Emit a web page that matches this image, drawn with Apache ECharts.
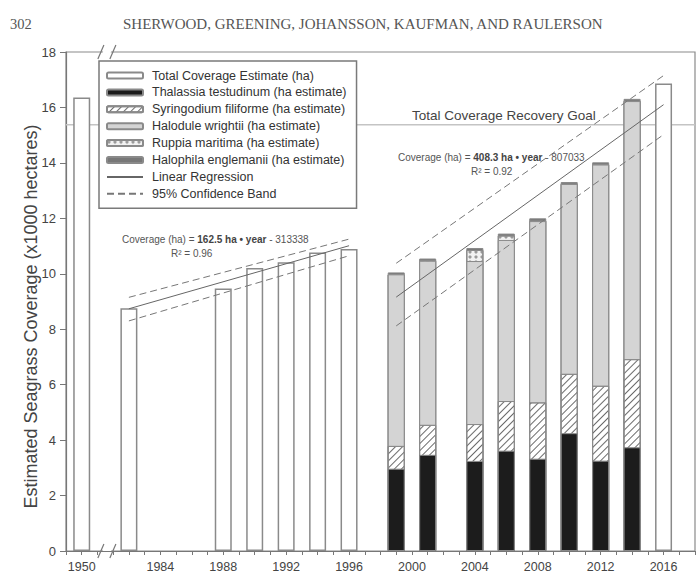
<!DOCTYPE html>
<html>
<head>
<meta charset="utf-8">
<script src="https://cdn.jsdelivr.net/npm/echarts@6/dist/echarts.min.js"></script>
<style>
  html, body { margin: 0; padding: 0; background: #fff; }
  #chart { width: 698px; height: 579px; }
</style>
</head>
<body>
<div id="chart"></div>
<script>
// Seagrass coverage survey results (x1000 ha)
const surveyYears   = [1950, 1982, 1988, 1990, 1992, 1994, 1996, 2016];
const totalCoverage = [16.36, 8.76, 9.47, 10.21, 10.42, 10.77, 10.89, 16.86];

// Species composition for the mapped years
const speciesYears = [1999, 2001, 2004, 2006, 2008, 2010, 2012, 2014];
const thalassia    = [2.97, 3.47, 3.25, 3.62, 3.33, 4.25, 3.26, 3.74];
const syringodium  = [0.82, 1.08, 1.33, 1.79, 2.03, 2.14, 2.70, 3.18];
const halodule     = [6.19, 5.92, 5.88, 5.81, 6.54, 6.85, 7.98, 9.31];
const ruppia       = [0.00, 0.02, 0.40, 0.16, 0.02, 0.01, 0.01, 0.01];
const halophila    = [0.07, 0.06, 0.07, 0.07, 0.08, 0.06, 0.07, 0.07];

// Recovery goal (x1000 ha)
const recoveryGoal = 15.378;

// Regression fits (ha = slope * year + intercept) and their year spans
const fitEarly = { years: [1982, 1996], slope: 162.5, intercept: -313338, r2: '0.96' };
const fitLate  = { years: [1999, 2016], slope: 408.3, intercept: -807033, r2: '0.92' };

// 95% confidence band ends (x1000 ha)
const bandEarlyUpper = [9.15, 11.25];
const bandEarlyLower = [8.30, 10.65];
const bandLateUpper  = [10.38, 17.15];
const bandLateLower  = [8.12, 15.02];

// Labelled years on the x axis
const tickYears = [1950, 1984, 1988, 1992, 1996, 2000, 2004, 2008, 2012, 2016];

// The 1950 survey sits in front of an axis break
const BREAK_SLOT = 1979;
const BREAK_AT = 1980.6;
const slot = y => (y === 1950 ? BREAK_SLOT : y);
const yearLabel = v => (v === BREAK_SLOT ? '1950' : (tickYears.includes(v) && v !== 1950 ? String(v) : ''));

const FONT = '"Liberation Sans", Arial, sans-serif';
const SERIF = '"Liberation Serif", "Times New Roman", serif';
const BORDER = '#8a8a8a';

const fitValue = (fit, y) => (fit.slope * y + fit.intercept) / 1000;
const fitLine = fit => fit.years.map(y => [y, fitValue(fit, y)]);
const bandLine = (years, vals) => years.map((y, i) => [y, vals[i]]);

// Species layers from the bottom of each bar upward; each segment is drawn
// as a bar reaching the running total, lower layers painted over upper ones.
const layers = [thalassia, syringodium, halodule, ruppia, halophila];
const runningTop = k => speciesYears.map((_, i) =>
  Math.round(layers.slice(0, k + 1).reduce((s, arr) => s + arr[i], 0) * 1000) / 1000);

const layerBar = (name, k, color, extra) => ({
  name, type: 'bar', barWidth: 17, barGap: '-100%',
  data: speciesYears.map((y, i) => [y, runningTop(k)[i]]),
  itemStyle: Object.assign({ color, borderColor: BORDER, borderWidth: 1 }, extra || {}),
  emphasis: { disabled: true }, z: 3
});

const chart = echarts.init(document.getElementById('chart'), null, { renderer: 'svg' });

const eqRich = {
  n: { fontFamily: FONT, fontSize: 10, fontWeight: 'normal', color: '#555' },
  b: { fontFamily: FONT, fontSize: 10, fontWeight: 'bold', color: '#444' }
};
const eqText = fit => '{n|Coverage (ha) = }{b|' + fit.slope + ' ha \u2022 year}{n| - ' + (-fit.intercept) + '}';

const option = {
  animation: false,
  backgroundColor: '#fff',
  title: [
    { text: '302', left: 5, top: 11, textStyle: { fontFamily: SERIF, fontSize: 14.5, fontWeight: 'normal', color: '#555' } },
    { text: 'SHERWOOD, GREENING, JOHANSSON, KAUFMAN, AND RAULERSON', left: 118, top: 11,
      textStyle: { fontFamily: SERIF, fontSize: 15, fontWeight: 'normal', color: '#555' } },
    { text: 'Total Coverage Recovery Goal', left: 407, top: 103,
      textStyle: { fontFamily: FONT, fontSize: 13.5, fontWeight: 'normal', color: '#444' } },
    { text: eqText(fitEarly), left: 117, top: 229, textStyle: { rich: eqRich } },
    { text: 'R\u00b2 = ' + fitEarly.r2, left: 166, top: 243,
      textStyle: { fontFamily: FONT, fontSize: 10, fontWeight: 'normal', color: '#555' } },
    { text: eqText(fitLate), left: 393, top: 147, textStyle: { rich: eqRich } },
    { text: 'R\u00b2 = ' + fitLate.r2, left: 466, top: 161,
      textStyle: { fontFamily: FONT, fontSize: 10, fontWeight: 'normal', color: '#555' } }
  ],
  legend: {
    orient: 'vertical', left: 99, top: 61,
    itemWidth: 36, itemHeight: 6, itemGap: 3.9,
    padding: [8, 10, 8, 7],
    backgroundColor: '#fff', borderColor: '#7a7a7a', borderWidth: 1.5,
    textStyle: { fontFamily: FONT, fontSize: 12.5, color: '#333', padding: [0, 0, 0, 4] },
    selectedMode: false,
    data: [
      'Total Coverage Estimate (ha)',
      'Thalassia testudinum (ha estimate)',
      'Syringodium filiforme (ha estimate)',
      'Halodule wrightii (ha estimate)',
      'Ruppia maritima (ha estimate)',
      'Halophila englemanii (ha estimate)',
      { name: 'Linear Regression', itemStyle: { opacity: 0 } },
      { name: '95% Confidence Band', itemStyle: { opacity: 0 } }
    ]
  },
  grid: { left: 66, right: 2, top: 52, bottom: 28, show: true, borderColor: '#8a8a8a', borderWidth: 1.2 },
  xAxis: {
    type: 'value', min: 1978, max: 2018, interval: 1,
    axisLine: { lineStyle: { color: '#777', width: 1.2 } },
    axisTick: { length: 4, lineStyle: { color: '#777' } },
    axisLabel: { formatter: yearLabel, fontFamily: FONT, fontSize: 12.5, color: '#444', margin: 9 },
    splitLine: { show: false }
  },
  yAxis: {
    type: 'value', min: 0, max: 18, interval: 2,
    name: 'Estimated Seagrass Coverage (x1000 hectares)',
    nameLocation: 'middle', nameGap: 26, nameMoveOverlap: false,
    nameTextStyle: { fontFamily: FONT, fontSize: 18, color: '#444', padding: [0, 30, 0, 0] },
    axisLine: { show: true, lineStyle: { color: '#777', width: 1.2 } },
    axisTick: { show: true, length: 6, lineStyle: { color: '#777' } },
    axisLabel: { fontFamily: FONT, fontSize: 13, color: '#444', margin: 10 },
    splitLine: { show: false }
  },
  series: [
    {
      name: 'Recovery Goal', type: 'line', silent: true, symbol: 'none', z: 1,
      data: [[1978, recoveryGoal], [2018, recoveryGoal]],
      lineStyle: { color: '#c4c4c4', width: 1.6 }
    },
    {
      name: 'Total Coverage Estimate (ha)', type: 'bar', barWidth: 17, barGap: '-100%',
      data: surveyYears.map((y, i) => [slot(y), totalCoverage[i]]),
      itemStyle: { color: '#fff', borderColor: BORDER, borderWidth: 1.5 },
      emphasis: { disabled: true }, z: 3
    },
    layerBar('Halophila englemanii (ha estimate)', 4, '#777777'),
    layerBar('Ruppia maritima (ha estimate)', 3, '#f2f2f2', {
      decal: { symbol: 'circle', symbolSize: 0.8, dashArrayX: [[4, 2]], dashArrayY: [4, 1], color: '#9a9a9a', backgroundColor: '#f7f7f7' }
    }),
    layerBar('Halodule wrightii (ha estimate)', 2, '#d4d4d4'),
    layerBar('Syringodium filiforme (ha estimate)', 1, '#ffffff', {
      decal: { symbol: 'rect', symbolSize: 1, dashArrayX: [1, 0], dashArrayY: [1, 3.2], rotation: -Math.PI / 4, color: '#6a6a6a', backgroundColor: '#ffffff' }
    }),
    layerBar('Thalassia testudinum (ha estimate)', 0, '#1c1c1c'),
    {
      name: 'Linear Regression', type: 'line', symbol: 'none', z: 5, silent: true,
      data: fitLine(fitEarly), itemStyle: { color: '#666' }, lineStyle: { color: '#666', width: 1 }
    },
    {
      name: 'Linear Regression', type: 'line', symbol: 'none', z: 5, silent: true,
      data: fitLine(fitLate), itemStyle: { color: '#666' }, lineStyle: { color: '#666', width: 1 }
    },
    {
      name: '95% Confidence Band', type: 'line', symbol: 'none', z: 5, silent: true,
      data: bandLine(fitEarly.years, bandEarlyUpper), itemStyle: { color: '#777' }, lineStyle: { color: '#777', width: 1, type: [7, 4] }
    },
    {
      name: '95% Confidence Band', type: 'line', symbol: 'none', z: 5, silent: true,
      data: bandLine(fitEarly.years, bandEarlyLower), itemStyle: { color: '#777' }, lineStyle: { color: '#777', width: 1, type: [7, 4] }
    },
    {
      name: '95% Confidence Band', type: 'line', symbol: 'none', z: 5, silent: true,
      data: bandLine(fitLate.years, bandLateUpper), itemStyle: { color: '#777' }, lineStyle: { color: '#777', width: 1, type: [7, 4] }
    },
    {
      name: '95% Confidence Band', type: 'line', symbol: 'none', z: 5, silent: true,
      data: bandLine(fitLate.years, bandLateLower), itemStyle: { color: '#777' }, lineStyle: { color: '#777', width: 1, type: [7, 4] }
    }
  ]
};

chart.setOption(option);

// Axis-break marks on the top frame and the x axis
function breakMark(px, py) {
  return {
    type: 'group', x: px, y: py, z: 100,
    children: [
      { type: 'polygon', shape: { points: [[-6, 7], [2, 7], [6, -7], [-2, -7]] }, style: { fill: '#fff' } },
      { type: 'line', shape: { x1: -9, y1: 7, x2: -3, y2: -7 }, style: { stroke: '#777', lineWidth: 1.2 } },
      { type: 'line', shape: { x1: 3, y1: 7, x2: 9, y2: -7 }, style: { stroke: '#777', lineWidth: 1.2 } }
    ]
  };
}
const breakBottom = chart.convertToPixel({ xAxisIndex: 0, yAxisIndex: 0 }, [BREAK_AT, 0]);
const breakTop = chart.convertToPixel({ xAxisIndex: 0, yAxisIndex: 0 }, [BREAK_AT, 18]);
chart.setOption({ graphic: [breakMark(breakBottom[0], breakBottom[1]), breakMark(breakTop[0], breakTop[1])] });
</script>
</body>
</html>
